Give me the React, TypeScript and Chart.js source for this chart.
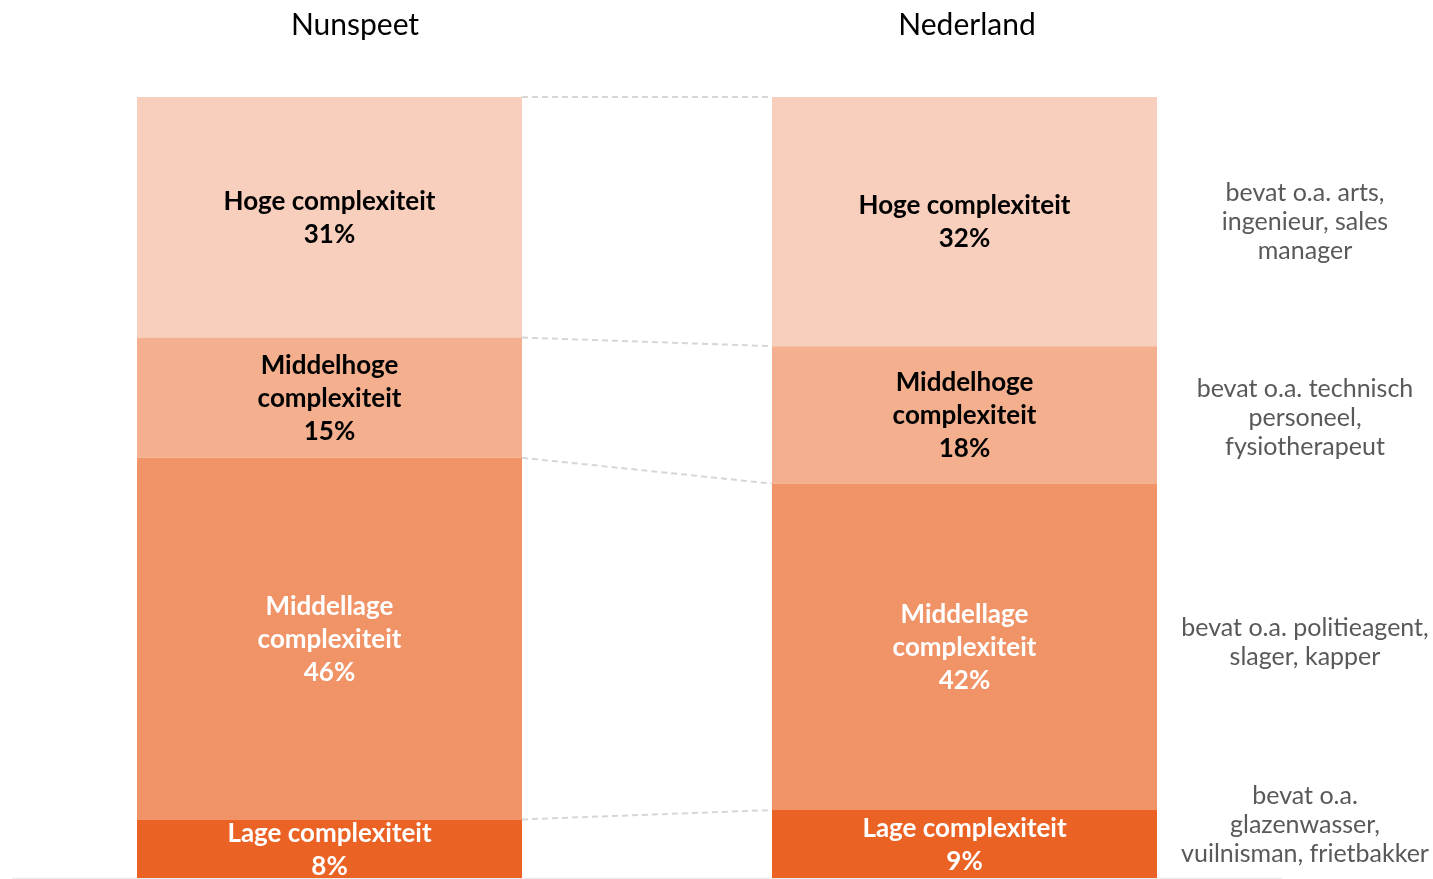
import React, { useEffect, useRef } from "react";
import { Chart, registerables } from "chart.js";

Chart.register(...registerables);

const regions = ["Nunspeet", "Nederland"];
const levels = ["Lage complexiteit", "Middellage complexiteit", "Middelhoge complexiteit", "Hoge complexiteit"];
const lageValues = [7.5, 8.7];
const middellageValues = [46.3, 41.8];
const middelhogeValues = [15.4, 17.6];
const hogeValues = [30.8, 31.9];
const levelLabelLines = [
  ["Lage complexiteit"],
  ["Middellage", "complexiteit"],
  ["Middelhoge", "complexiteit"],
  ["Hoge complexiteit"],
];
const examples = [
  ["bevat o.a.", "glazenwasser,", "vuilnisman, frietbakker"],
  ["bevat o.a. politieagent,", "slager, kapper"],
  ["bevat o.a. technisch", "personeel,", "fysiotherapeut"],
  ["bevat o.a. arts,", "ingenieur, sales", "manager"],
];
const colors = ["#EB6225", "#F09367", "#F4AF8E", "#F8CEBC"];
const textColors = ["#ffffff", "#ffffff", "#000000", "#000000"];
const FONT = "Lato, 'Open Sans', sans-serif";

const overlayPlugin = {
  id: "overlay",
  beforeDatasetsDraw(chart: any) {
    const ctx = chart.ctx;
    const area = chart.chartArea;
    ctx.save();
    ctx.strokeStyle = "#ececec";
    ctx.lineWidth = 1.5;
    ctx.beginPath();
    ctx.moveTo(area.left, area.bottom + 0.5);
    ctx.lineTo(area.right, area.bottom + 0.5);
    ctx.stroke();
    ctx.strokeStyle = "#d6d6d6";
    ctx.lineWidth = 2;
    ctx.setLineDash([6, 4]);
    chart.data.datasets.forEach((_: any, di: number) => {
      const meta = chart.getDatasetMeta(di);
      const a = meta.data[0];
      const b = meta.data[1];
      ctx.beginPath();
      ctx.moveTo(a.x + a.width / 2, a.y);
      ctx.lineTo(b.x - b.width / 2, b.y);
      ctx.stroke();
    });
    ctx.restore();
  },
  afterDatasetsDraw(chart: any) {
    const ctx = chart.ctx;
    const area = chart.chartArea;
    ctx.save();
    ctx.textAlign = "center";
    ctx.textBaseline = "middle";
    chart.data.datasets.forEach((ds: any, di: number) => {
      const meta = chart.getDatasetMeta(di);
      meta.data.forEach((el: any, i: number) => {
        const lines = [...levelLabelLines[di], Math.round(ds.data[i]) + "%"];
        const lh = 33;
        const cy = (el.y + el.base) / 2 + 1;
        const y0 = cy - ((lines.length - 1) * lh) / 2;
        ctx.fillStyle = textColors[di];
        ctx.font = `bold 26px ${FONT}`;
        lines.forEach((t: string, k: number) => ctx.fillText(t, el.x, y0 + k * lh));
      });
      const el = meta.data[1];
      const lines = examples[di];
      const lh = 29;
      let cy = (el.y + el.base) / 2;
      if (di === 1) cy -= 4;
      if (di === 2) cy += 3;
      cy = Math.min(cy, area.bottom - 53);
      const y0 = cy - ((lines.length - 1) * lh) / 2;
      ctx.fillStyle = "#595959";
      ctx.font = `25px ${FONT}`;
      lines.forEach((t: string, k: number) => ctx.fillText(t, 1305, y0 + k * lh));
    });
    ctx.fillStyle = "#000000";
    ctx.font = `30px ${FONT}`;
    const titleX = [355, 967];
    regions.forEach((r, i) => ctx.fillText(r, titleX[i], 25));
    ctx.restore();
  },
};

export default function App() {
  const ref = useRef<HTMLCanvasElement>(null);
  useEffect(() => {
    if (!ref.current) return;
    const valuesByLevel = [lageValues, middellageValues, middelhogeValues, hogeValues];
    const chart = new Chart(ref.current, {
      type: "bar",
      data: {
        labels: regions,
        datasets: levels.map((l, i) => ({
          label: l,
          data: valuesByLevel[i],
          backgroundColor: colors[i],
          borderWidth: 0,
          categoryPercentage: 1,
          barPercentage: 0.6063,
        })),
      },
      options: {
        animation: false,
        responsive: true,
        maintainAspectRatio: false,
        layout: { padding: { left: 12, right: 151, top: 97, bottom: 1 } },
        plugins: { legend: { display: false }, tooltip: { enabled: false } },
        scales: {
          x: { stacked: true, display: false },
          y: { stacked: true, display: false, min: 0, max: 100 },
        },
      },
      plugins: [overlayPlugin],
    });
    return () => chart.destroy();
  }, []);
  return (
    <div style={{ position: "absolute", left: 0, top: 0, width: 1433, height: 879 }}>
      <canvas ref={ref} />
    </div>
  );
}
